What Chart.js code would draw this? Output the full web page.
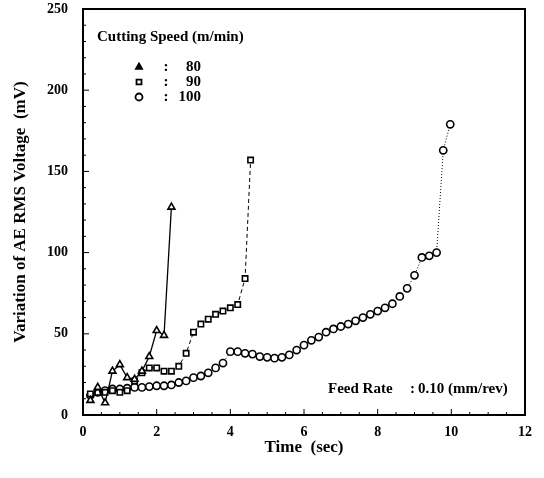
<!DOCTYPE html>
<html>
<head>
<meta charset="utf-8">
<script src="https://cdn.jsdelivr.net/npm/chart.js@4.4.1/dist/chart.umd.min.js"></script>
<style>
  html, body { margin: 0; padding: 0; background: #fff; }
  #wrap { width: 544px; height: 478px; }
</style>
</head>
<body>
<div id="wrap"><canvas id="chart" width="544" height="478"></canvas></div>
<script>
// data: time (sec) vs AE RMS voltage (mV)
const speed80Time = [0.2, 0.4, 0.6, 0.8, 1.0, 1.2, 1.4, 1.6, 1.8, 2.0, 2.2, 2.4];
const speed80Volt = [9, 17, 7.5, 27, 31, 23, 22, 27, 36, 52, 49, 128];

const speed90Time = [0.2, 0.4, 0.6, 0.8, 1.0, 1.2, 1.4, 1.6, 1.8, 2.0, 2.2, 2.4, 2.6, 2.8, 3.0, 3.2, 3.4, 3.6, 3.8, 4.0, 4.2, 4.4, 4.55];
const speed90Volt = [13, 14, 14, 15, 14, 15, 21, 26, 29, 29, 27, 27, 30, 38, 51, 56, 59, 62, 64, 66, 68, 84, 157];

const speed100Time = [0.2, 0.4, 0.6, 0.8, 1.0, 1.2, 1.4, 1.6, 1.8, 2.0, 2.2, 2.4, 2.6, 2.8, 3.0, 3.2, 3.4, 3.6, 3.8, 4.0,
  4.2, 4.4, 4.6, 4.8, 5.0, 5.2, 5.4, 5.6, 5.8, 6.0, 6.2, 6.4, 6.6, 6.8, 7.0, 7.2, 7.4, 7.6, 7.8, 8.0,
  8.2, 8.4, 8.6, 8.8, 9.0, 9.2, 9.4, 9.6, 9.78, 9.97];
const speed100Volt = [12, 14, 15, 16, 16, 16.5, 17, 17, 17.5, 18, 18, 18.5, 20, 21, 23, 24, 26, 29, 32, 39,
  39, 38, 37.5, 36, 35.5, 35, 35.5, 37, 40, 43, 46, 48, 51, 53, 54.5, 56, 58, 60, 62, 64,
  66, 68.5, 73, 78, 86, 97, 98, 100, 163, 179];

const xTicks = [0, 2, 4, 6, 8, 10, 12];
const yTicks = [0, 50, 100, 150, 200, 250];

const legendLabels = ['80', '90', '100'];
const legendStyles = ['triangle', 'rect', 'circle'];

const serif = '"Liberation Serif", "DejaVu Serif", serif';

function pts(xs, ys) {
  return xs.map((x, i) => ({ x: x, y: ys[i] }));
}

// box + inward ticks + in-plot notes
const frame = {
  id: 'frame',
  afterDraw(chart) {
    const { ctx, chartArea: a, scales: { x, y } } = chart;
    ctx.save();
    ctx.strokeStyle = '#000';
    ctx.lineWidth = 2;
    ctx.strokeRect(a.left, a.top, a.right - a.left, a.bottom - a.top);
    ctx.lineWidth = 1;
    ctx.beginPath();
    for (let v = 0; v <= 12; v += 0.5) {
      const px = x.getPixelForValue(v);
      const len = xTicks.includes(v) ? 6 : 3;
      ctx.moveTo(px, a.bottom);
      ctx.lineTo(px, a.bottom - len);
    }
    for (let v = 0; v <= 250; v += 10) {
      const py = y.getPixelForValue(v);
      const len = yTicks.includes(v) ? 6 : 3;
      ctx.moveTo(a.left, py);
      ctx.lineTo(a.left + len, py);
    }
    ctx.stroke();

    ctx.font = 'bold 15px ' + serif;
    ctx.textBaseline = 'middle';
    ctx.textAlign = 'left';
    ctx.fillStyle = '#000';
    ctx.fillText('Cutting Speed (m/min)', 97, 37);
    legendLabels.forEach((lab, i) => {
      const cy = 67 + i * 15;
      ctx.fillStyle = i === 0 ? '#000' : '#fff';
      ctx.strokeStyle = '#000';
      ctx.lineWidth = 1.8;
      Chart.helpers.drawPoint(ctx, { pointStyle: legendStyles[i], radius: 3.5, borderWidth: 1.8 }, 139, cy);
      ctx.fillStyle = '#000';
      ctx.textAlign = 'center';
      ctx.fillText(':', 166, cy);
      ctx.textAlign = 'right';
      ctx.fillText(lab, 201, cy);
    });
    ctx.textAlign = 'left';
    ctx.fillText('Feed Rate', 328, 389);
    ctx.fillText(':', 410, 389);
    ctx.fillText('0.10 (mm/rev)', 418, 389);
    ctx.restore();
  }
};

function series(label, data, style, dash, lw, r) {
  return {
    label: label,
    data: data,
    showLine: true,
    borderColor: '#000',
    borderWidth: lw,
    borderDash: dash,
    pointStyle: style,
    pointRadius: r,
    pointBorderWidth: 1.6,
    pointBackgroundColor: '#fff',
    pointBorderColor: '#000'
  };
}

new Chart(document.getElementById('chart'), {
  type: 'scatter',
  data: {
    datasets: [
      series('80', pts(speed80Time, speed80Volt), 'triangle', [], 1.3, 4),
      series('90', pts(speed90Time, speed90Volt), 'rect', [4, 3], 1, 3.8),
      series('100', pts(speed100Time, speed100Volt), 'circle', [1, 2], 1, 3.6)
    ]
  },
  options: {
    responsive: false,
    animation: false,
    layout: { padding: { top: 9, right: 19, bottom: 0, left: 0 } },
    plugins: { legend: { display: false }, tooltip: { enabled: false } },
    scales: {
      x: {
        type: 'linear',
        min: 0, max: 12,
        afterFit: s => { s.height = 63; },
        afterBuildTicks: s => { s.ticks = xTicks.map(v => ({ value: v })); },
        grid: { display: false },
        border: { display: false },
        ticks: { color: '#000', padding: 1, font: { family: serif, size: 14, weight: 'bold' } },
        title: {
          display: true, text: 'Time  (sec)', color: '#000',
          padding: { top: 0, bottom: 20 },
          font: { family: serif, size: 17, weight: 'bold' }
        }
      },
      y: {
        type: 'linear',
        min: 0, max: 250,
        afterFit: s => { s.width = 83; s.paddingTop = 0; s.paddingBottom = 0; },
        afterBuildTicks: s => { s.ticks = yTicks.map(v => ({ value: v })); },
        grid: { display: false },
        border: { display: false },
        ticks: { color: '#000', padding: 7, font: { family: serif, size: 14, weight: 'bold' } },
        title: {
          display: true, text: 'Variation of AE RMS Voltage  (mV)', color: '#000',
          padding: { top: 10, bottom: 0 },
          font: { family: serif, size: 17, weight: 'bold' }
        }
      }
    }
  },
  plugins: [frame]
});
</script>
</body>
</html>
